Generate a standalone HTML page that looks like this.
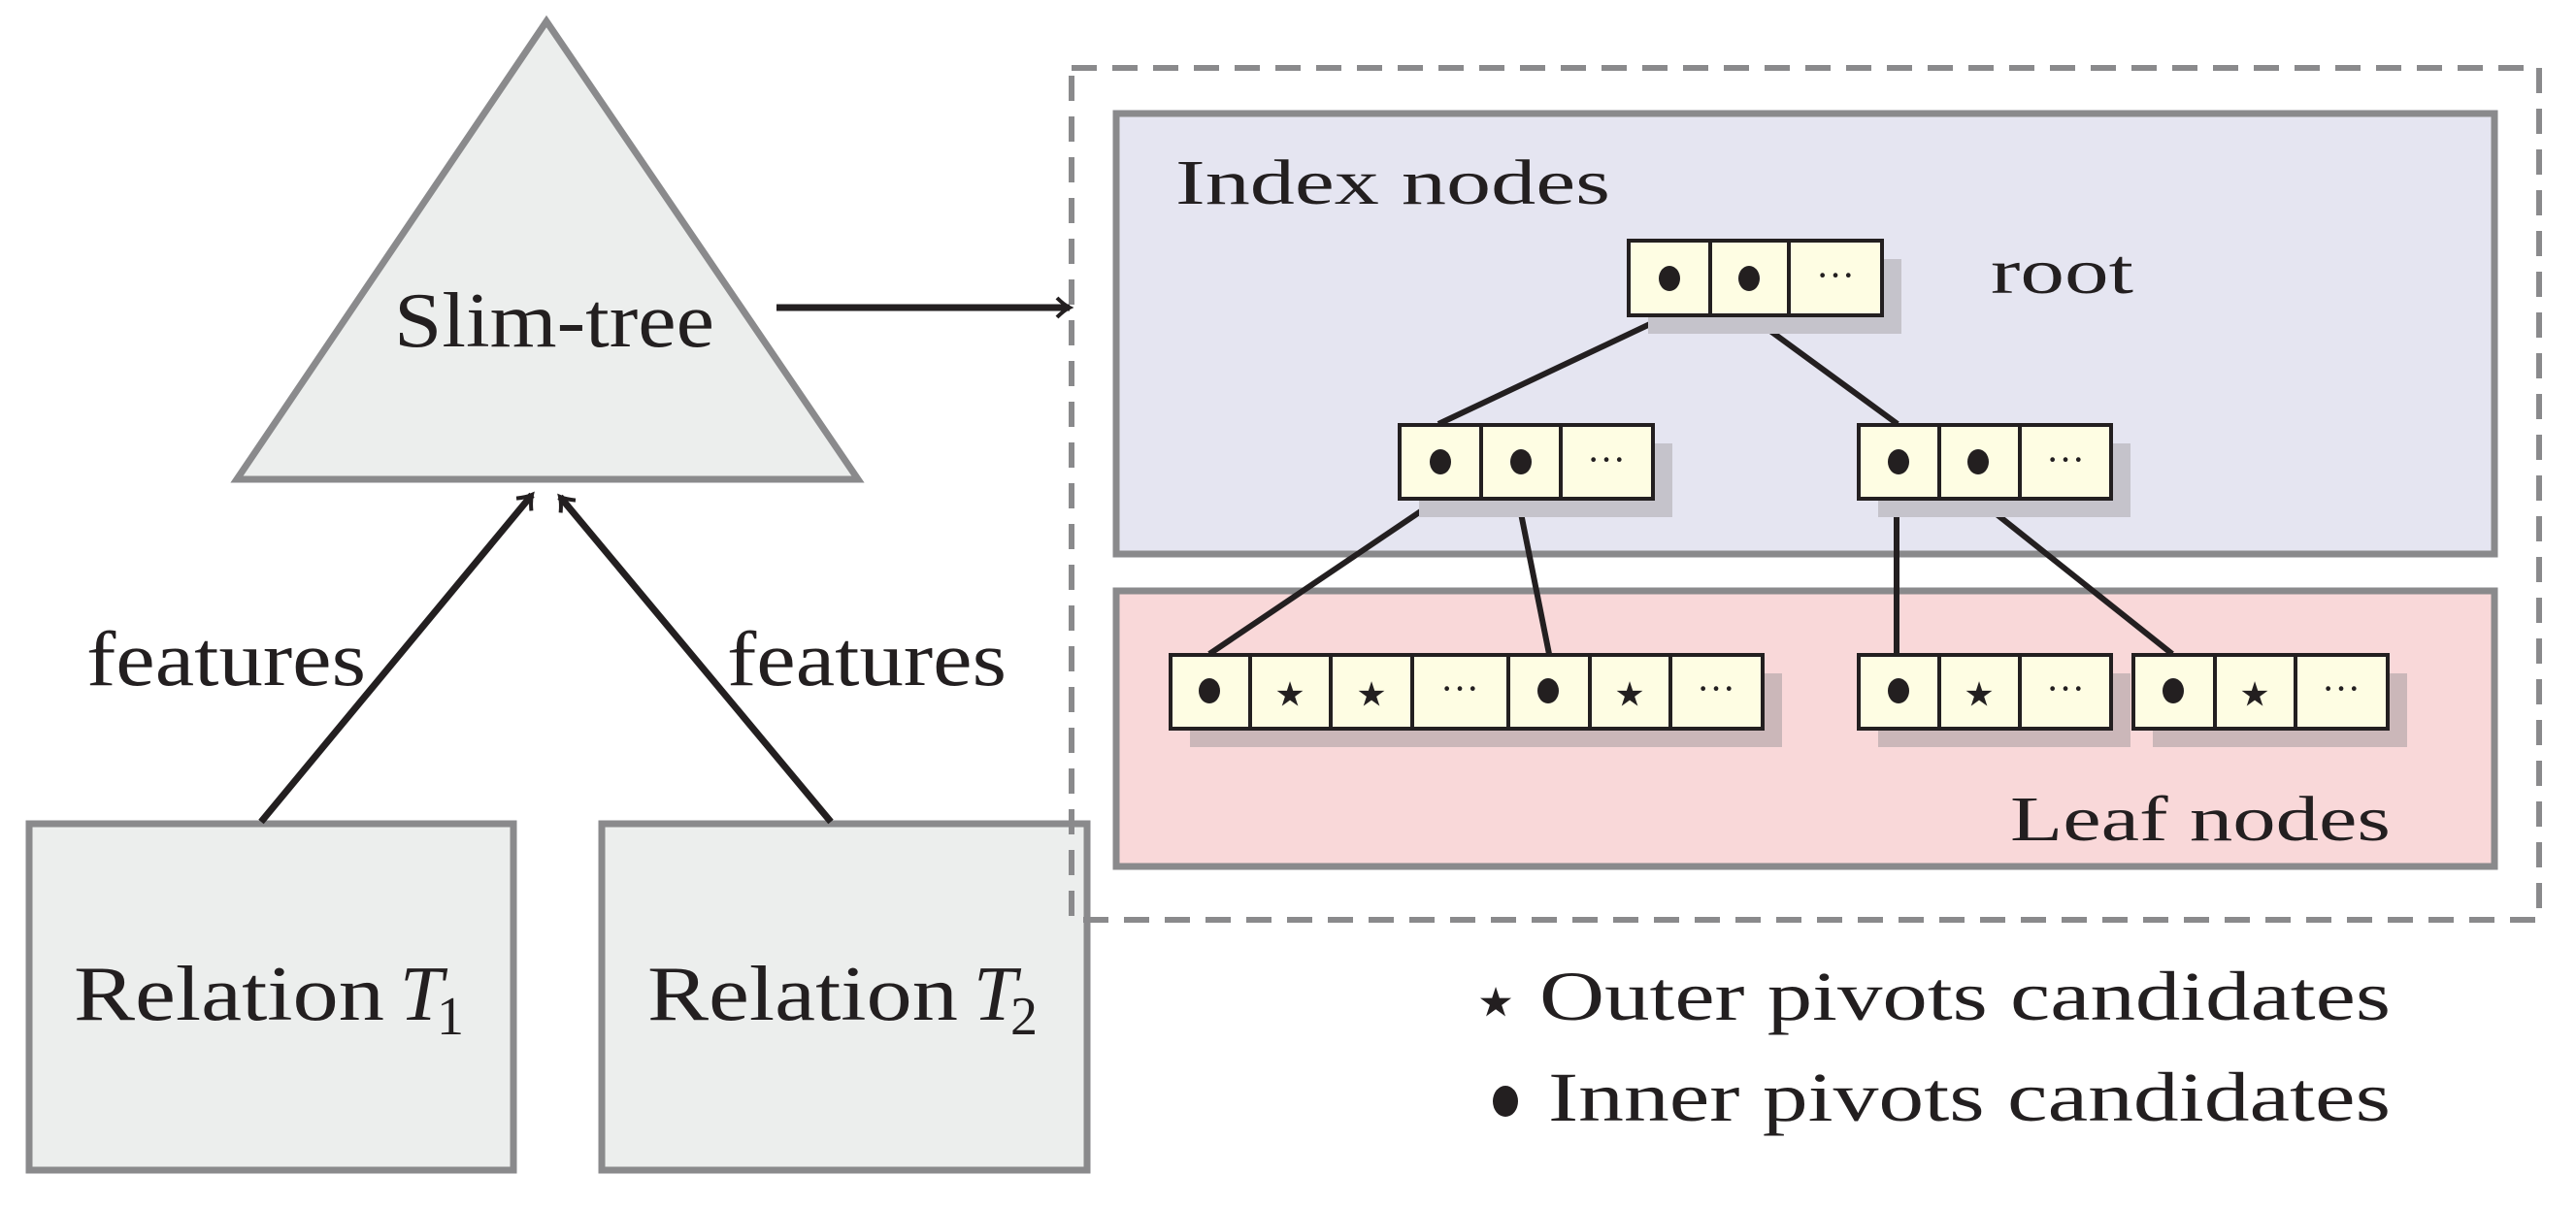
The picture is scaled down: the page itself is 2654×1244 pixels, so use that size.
<!DOCTYPE html>
<html><head><meta charset="utf-8"><style>html,body{margin:0;padding:0;background:#fff}svg{display:block}</style></head>
<body>
<svg width="2654" height="1244" viewBox="0 0 2654 1244" xmlns="http://www.w3.org/2000/svg" font-family="'Liberation Serif', serif" fill="#231f20">
<defs>
<marker id="ah" markerWidth="24" markerHeight="24" refX="16" refY="12" orient="auto" markerUnits="userSpaceOnUse">
<path d="M3,2 Q10,9 16,12 Q10,15 3,22" fill="none" stroke="#231f20" stroke-width="4"/>
</marker>
<g id="cd"><ellipse cx="0" cy="0" rx="11" ry="13" fill="#231f20"/></g>
</defs>
<polygon points="563,22 244,494 884,494" fill="#eceeed" stroke="#8a8a8c" stroke-width="7"/>
<text x="571" y="357" font-size="80" text-anchor="middle" textLength="330" lengthAdjust="spacingAndGlyphs">Slim-tree</text>
<rect x="30" y="849" width="499" height="357" fill="#eceeed" stroke="#8a8a8c" stroke-width="7"/>
<rect x="620" y="849" width="500" height="357" fill="#eceeed" stroke="#8a8a8c" stroke-width="7"/>
<text x="76" y="1051" font-size="80" textLength="320" lengthAdjust="spacingAndGlyphs">Relation</text>
<text x="412" y="1051" font-size="80" font-style="italic">T</text><text x="450" y="1066" font-size="56">1</text>
<text x="667" y="1051" font-size="80" textLength="320" lengthAdjust="spacingAndGlyphs">Relation</text>
<text x="1003" y="1051" font-size="80" font-style="italic">T</text><text x="1041" y="1066" font-size="56">2</text>
<line x1="269" y1="847" x2="548" y2="510" stroke="#231f20" stroke-width="7" marker-end="url(#ah)"/>
<line x1="856" y1="847" x2="577" y2="512" stroke="#231f20" stroke-width="7" marker-end="url(#ah)"/>
<text x="89" y="706" font-size="80" textLength="288" lengthAdjust="spacingAndGlyphs">features</text>
<text x="749" y="706" font-size="80" textLength="288" lengthAdjust="spacingAndGlyphs">features</text>
<line x1="800" y1="317" x2="1102" y2="317" stroke="#231f20" stroke-width="7" marker-end="url(#ah)"/>
<rect x="1104" y="70" width="1512" height="878" fill="none" stroke="#8a8a8c" stroke-width="6" stroke-dasharray="26,16"/>
<rect x="1150" y="117" width="1420" height="454" fill="#e5e5f1" stroke="#8a8a8c" stroke-width="7"/>
<rect x="1150" y="609" width="1420" height="284" fill="#f9d8d9" stroke="#8a8a8c" stroke-width="7"/>
<text x="1211" y="210" font-size="66" textLength="448" lengthAdjust="spacingAndGlyphs">Index nodes</text>
<text x="2051" y="302" font-size="66" textLength="147" lengthAdjust="spacingAndGlyphs">root</text>
<text x="2071" y="866" font-size="66" textLength="392" lengthAdjust="spacingAndGlyphs">Leaf nodes</text>
<g stroke="#231f20" stroke-width="6">
<line x1="1719" y1="325" x2="1482" y2="437"/>
<line x1="1802" y1="325" x2="1955" y2="437"/>
<line x1="1483" y1="514" x2="1246" y2="674"/>
<line x1="1564" y1="514" x2="1596" y2="674"/>
<line x1="1954" y1="514" x2="1954" y2="674"/>
<line x1="2037" y1="514" x2="2238" y2="674"/>
</g>
<g fill="#c5c3cb">
<rect x="1698" y="267" width="261" height="77"/>
<rect x="1462" y="457" width="261" height="76"/>
<rect x="1935" y="457" width="260" height="76"/>
</g>
<g fill="#cbb7b9">
<rect x="1226" y="694" width="610" height="76"/>
<rect x="1935" y="694" width="260" height="76"/>
<rect x="2218" y="694" width="262" height="76"/>
</g>
<g fill="#fefde3" stroke="#231f20" stroke-width="4">
<rect x="1678" y="248" width="84" height="77"/><rect x="1762" y="248" width="81" height="77"/><rect x="1843" y="248" width="96" height="77"/>
<rect x="1442" y="438" width="84" height="76"/><rect x="1526" y="438" width="82" height="76"/><rect x="1608" y="438" width="95" height="76"/>
<rect x="1915" y="438" width="83" height="76"/><rect x="1998" y="438" width="83" height="76"/><rect x="2081" y="438" width="94" height="76"/>
<rect x="1206" y="675" width="82" height="76"/><rect x="1288" y="675" width="83" height="76"/><rect x="1371" y="675" width="84" height="76"/><rect x="1455" y="675" width="99" height="76"/>
<rect x="1554" y="675" width="84" height="76"/><rect x="1638" y="675" width="83" height="76"/><rect x="1721" y="675" width="95" height="76"/>
<rect x="1915" y="675" width="83" height="76"/><rect x="1998" y="675" width="83" height="76"/><rect x="2081" y="675" width="94" height="76"/>
<rect x="2198" y="675" width="84" height="76"/><rect x="2282" y="675" width="83" height="76"/><rect x="2365" y="675" width="95" height="76"/>
</g>
<use href="#cd" x="1720" y="287"/><use href="#cd" x="1802" y="287"/>
<use href="#cd" x="1484" y="476"/><use href="#cd" x="1567" y="476"/>
<use href="#cd" x="1956" y="476"/><use href="#cd" x="2038" y="476"/>
<use href="#cd" x="1246" y="712"/><use href="#cd" x="1595" y="712"/>
<use href="#cd" x="1956" y="712"/><use href="#cd" x="2239" y="712"/>
<g font-size="40" text-anchor="middle">
<text x="1891" y="297">···</text><text x="1655" y="487">···</text><text x="2128" y="487">···</text>
<text x="1504" y="723">···</text><text x="1768" y="723">···</text><text x="2128" y="723">···</text><text x="2412" y="723">···</text>
</g>
<g font-size="70" text-anchor="middle" font-family="'DejaVu Sans', sans-serif">
<text x="1329" y="738">⋆</text><text x="1413" y="738">⋆</text><text x="1679" y="738">⋆</text><text x="2039" y="738">⋆</text><text x="2323" y="738">⋆</text>
</g>
<text x="1541" y="1060" font-size="84" font-family="'DejaVu Sans', sans-serif" text-anchor="middle">⋆</text>
<text x="1586" y="1051" font-size="72" textLength="877" lengthAdjust="spacingAndGlyphs">Outer pivots candidates</text>
<ellipse cx="1551" cy="1135" rx="13" ry="16"/>
<text x="1595" y="1155" font-size="72" textLength="868" lengthAdjust="spacingAndGlyphs">Inner pivots candidates</text>
</svg>
</body></html>
